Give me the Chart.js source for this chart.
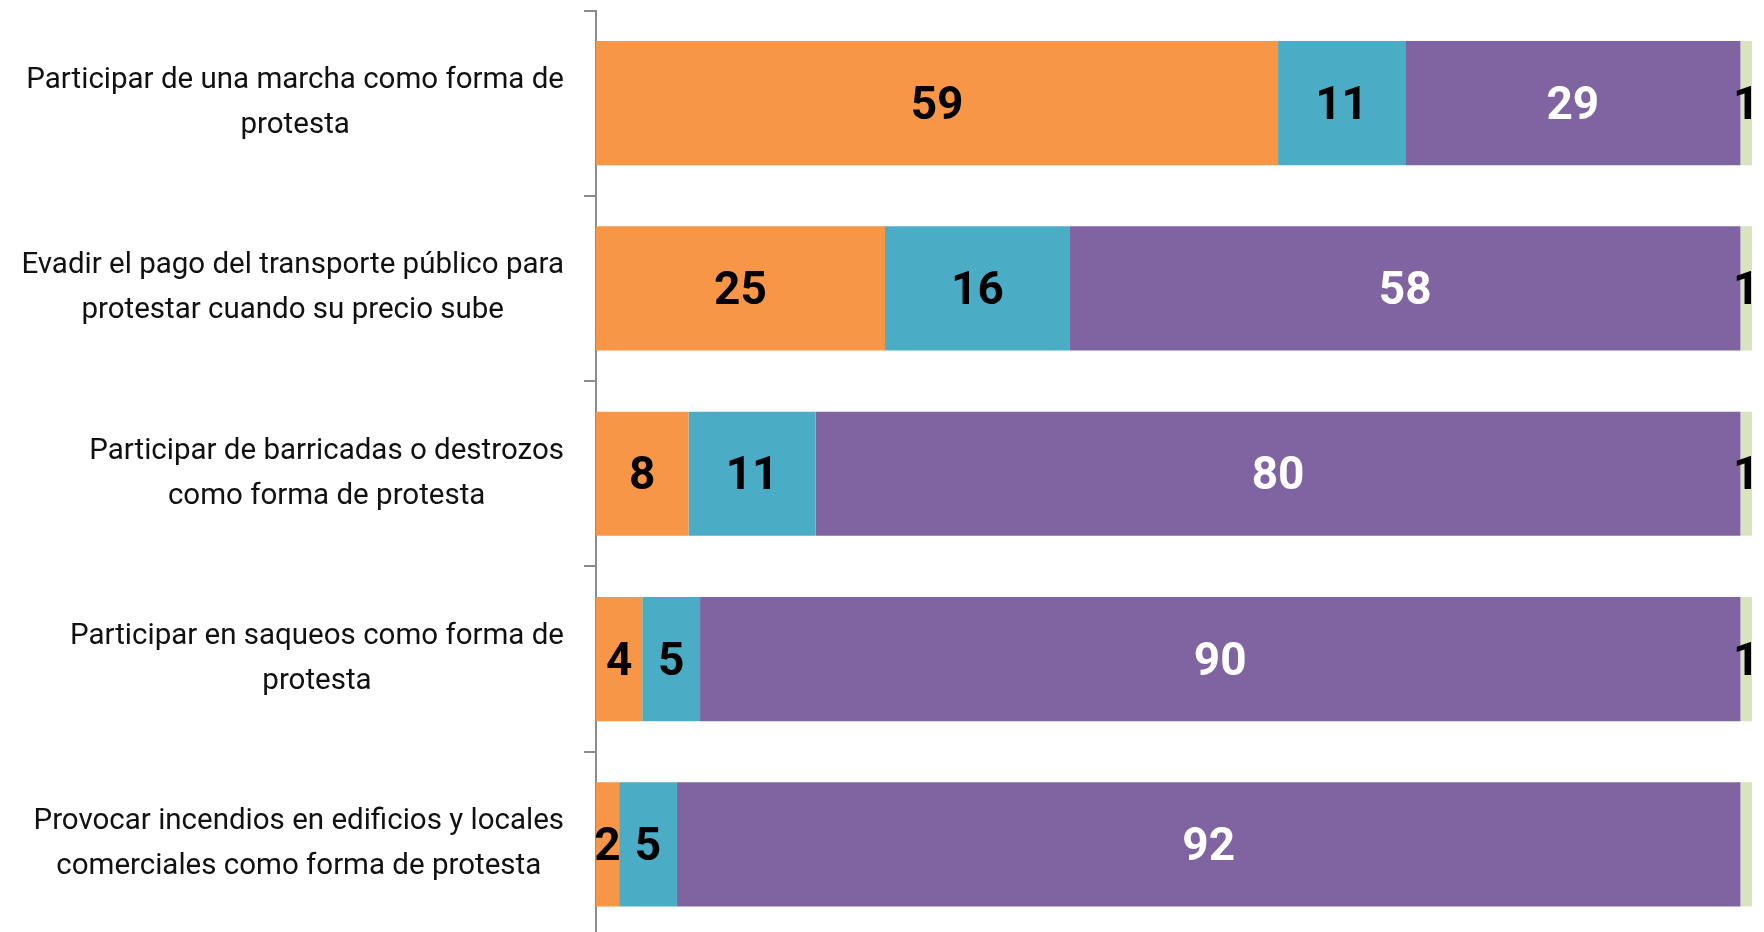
<!DOCTYPE html>
<html>
<head>
<meta charset="utf-8">
<script src="https://cdn.jsdelivr.net/npm/chart.js"></script>
<style>
    html, body { margin: 0; padding: 0; background: #fff; overflow: hidden; }
    canvas { display: block; }
</style>
</head>
<body>
<canvas id="protestChart" width="1764" height="937"></canvas>
<script>
// Data
const categories = [
    ['Participar de una marcha como forma de', 'protesta'],
    ['Evadir el pago del transporte público para', 'protestar cuando su precio sube'],
    ['Participar de barricadas o destrozos', 'como forma de protesta'],
    ['Participar en saqueos como forma de', 'protesta'],
    ['Provocar incendios en edificios y locales', 'comerciales como forma de protesta']
];
const orangeValues = [59, 25, 8, 4, 2];
const blueValues = [11, 16, 11, 5, 5];
const purpleValues = [29, 58, 80, 90, 92];
const greenValues = [1, 1, 1, 1, 1.2];
const greenLabels = ['1', '1', '1', '1', ''];

const labelFont = '29.5px Roboto, "Open Sans", sans-serif';
const valueFont = 'bold 46px Roboto, "Open Sans", sans-serif';

// draws the numbers inside the bars
const valueLabelsPlugin = {
    id: 'valueLabels',
    afterDatasetsDraw(chart) {
        const ctx = chart.ctx;
        ctx.save();
        ctx.font = valueFont;
        ctx.textAlign = 'center';
        ctx.textBaseline = 'middle';
        chart.data.datasets.forEach(function(ds, di) {
            const meta = chart.getDatasetMeta(di);
            meta.data.forEach(function(bar, i) {
                const text = ds.valueLabels ? ds.valueLabels[i] : String(Math.round(ds.data[i]));
                if (!text) return;
                ctx.fillStyle = ds.labelColor;
                ctx.fillText(text, (bar.x + bar.base) / 2, bar.y + 4);
            });
        });
        ctx.restore();
    }
};

// category labels: block right-aligned, lines centered inside the block
const categoryLabelsPlugin = {
    id: 'categoryLabels',
    afterDraw(chart) {
        const ctx = chart.ctx;
        const yScale = chart.scales.y;
        const rightEdge = chart.chartArea.left - 32;
        const lineHeight = 45;
        ctx.save();
        ctx.font = labelFont;
        ctx.fillStyle = '#111';
        ctx.textAlign = 'center';
        ctx.textBaseline = 'middle';
        categories.forEach(function(lines, i) {
            const y = yScale.getPixelForTick(i);
            const maxW = Math.max.apply(null, lines.map(function(l) { return ctx.measureText(l).width; }));
            const cx = rightEdge - maxW / 2;
            const startY = y - (lines.length - 1) * lineHeight / 2;
            lines.forEach(function(line, k) {
                ctx.fillText(line, cx, startY + k * lineHeight);
            });
        });
        ctx.restore();
    }
};

new Chart(document.getElementById('protestChart').getContext('2d'), {
    type: 'bar',
    data: {
        labels: categories,
        datasets: [
            { data: orangeValues, backgroundColor: '#F79646', labelColor: '#000' },
            { data: blueValues, backgroundColor: '#4BACC6', labelColor: '#000' },
            { data: purpleValues, backgroundColor: '#8064A2', labelColor: '#fff' },
            { data: greenValues, backgroundColor: '#D7E4BD', labelColor: '#000', valueLabels: greenLabels }
        ]
    },
    options: {
        indexAxis: 'y',
        responsive: false,
        animation: false,
        categoryPercentage: 1,
        barPercentage: 0.67,
        layout: {
            padding: { top: 10.5, right: 12, bottom: 0, left: 0 }
        },
        plugins: {
            legend: { display: false },
            tooltip: { enabled: false }
        },
        scales: {
            x: {
                stacked: true,
                min: 0,
                max: 100,
                display: false
            },
            y: {
                stacked: true,
                afterFit: function(scale) { scale.width = 596; },
                ticks: { display: false },
                grid: {
                    offset: true,
                    drawOnChartArea: false,
                    drawTicks: true,
                    tickLength: 12,
                    color: '#8c8c8c',
                    lineWidth: 2
                },
                border: { display: true, color: '#8c8c8c', width: 2 }
            }
        }
    },
    plugins: [valueLabelsPlugin, categoryLabelsPlugin]
});
</script>
</body>
</html>
